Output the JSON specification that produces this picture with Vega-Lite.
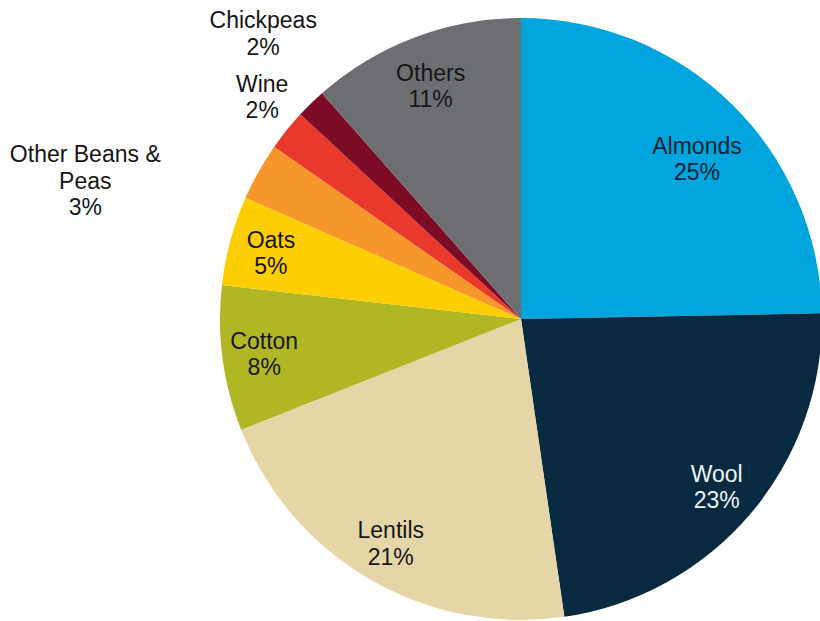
{
  "$schema": "https://vega.github.io/schema/vega-lite/v6.json",
  "width": 1042,
  "height": 638,
  "autosize": {"type": "none"},
  "padding": 0,
  "background": "white",
  "config": {"view": {"stroke": null}, "text": {"font": "Liberation Sans"}},
  "data": {
    "values": [
      {"idx": 1, "category": "Almonds", "share": 24.7, "label": "25%"},
      {"idx": 2, "category": "Wool", "share": 23.0, "label": "23%"},
      {"idx": 3, "category": "Lentils", "share": 21.3, "label": "21%"},
      {"idx": 4, "category": "Cotton", "share": 7.8, "label": "8%"},
      {"idx": 5, "category": "Oats", "share": 4.8, "label": "5%"},
      {"idx": 6, "category": "Other Beans & Peas", "share": 3.1, "label": "3%"},
      {"idx": 7, "category": "Wine", "share": 2.2, "label": "2%"},
      {"idx": 8, "category": "Chickpeas", "share": 1.6, "label": "2%"},
      {"idx": 9, "category": "Others", "share": 11.5, "label": "11%"}
    ]
  },
  "transform": [
    {"calculate": "replace(datum.category, ' & ', ' &\\n') + '\\n' + datum.label", "as": "txt"}
  ],
  "encoding": {
    "theta": {"field": "share", "type": "quantitative", "stack": true},
    "order": {"field": "idx", "type": "quantitative"}
  },
  "layer": [
    {
      "mark": {"type": "arc", "outerRadius": 301},
      "encoding": {
        "color": {
          "field": "category",
          "type": "nominal",
          "sort": null,
          "legend": null,
          "scale": {
            "domain": ["Almonds", "Wool", "Lentils", "Cotton", "Oats", "Other Beans & Peas", "Wine", "Chickpeas", "Others"],
            "range": ["#00a5dd", "#082a40", "#e5d6a8", "#afb725", "#fdcf00", "#f6962b", "#e8392b", "#7c0b26", "#6d6e72"]
          }
        }
      }
    },
    {
      "mark": {"type": "text", "radius": 258, "dx": -1, "dy": -11, "fontSize": 23, "lineHeight": 26.5, "lineBreak": "\n", "align": "center", "baseline": "middle"},
      "encoding": {
        "text": {"condition": {"test": "indexof(['Wool','Lentils','Cotton','Oats'], datum.category) >= 0", "field": "txt", "type": "nominal"}, "value": ""},
        "color": {"condition": {"test": "datum.category === 'Wool'", "value": "#eef3f6"}, "value": "#161616"}
      }
    },
    {
      "mark": {"type": "text", "radius": 237, "dx": 10, "dy": -3, "fontSize": 23, "lineHeight": 26.5, "lineBreak": "\n", "align": "center", "baseline": "middle", "color": "#0c2236"},
      "encoding": {
        "text": {"condition": {"test": "datum.category === 'Almonds'", "field": "txt", "type": "nominal"}, "value": ""}
      }
    },
    {
      "mark": {"type": "text", "radius": 250, "dx": -2, "dy": -11.5, "fontSize": 23, "lineHeight": 26.5, "lineBreak": "\n", "align": "center", "baseline": "middle", "color": "#161616"},
      "encoding": {
        "text": {"condition": {"test": "datum.category === 'Others'", "field": "txt", "type": "nominal"}, "value": ""}
      }
    },
    {
      "mark": {"type": "text", "radius": 335, "dx": 2, "dy": -24, "fontSize": 23, "lineHeight": 26.5, "lineBreak": "\n", "align": "center", "baseline": "middle", "color": "#161616"},
      "encoding": {
        "text": {"condition": {"test": "datum.category === 'Wine'", "field": "txt", "type": "nominal"}, "value": ""}
      }
    },
    {
      "mark": {"type": "text", "radius": 385, "dx": 11, "dy": -22, "fontSize": 23, "lineHeight": 26.5, "lineBreak": "\n", "align": "center", "baseline": "middle", "color": "#161616"},
      "encoding": {
        "text": {"condition": {"test": "datum.category === 'Chickpeas'", "field": "txt", "type": "nominal"}, "value": ""}
      }
    },
    {
      "mark": {"type": "text", "radius": 470, "dx": -26, "dy": 66.5, "fontSize": 23, "lineHeight": 26.5, "lineBreak": "\n", "align": "center", "baseline": "middle", "color": "#161616"},
      "encoding": {
        "text": {"condition": {"test": "datum.category === 'Other Beans & Peas'", "field": "txt", "type": "nominal"}, "value": ""}
      }
    }
  ]
}
